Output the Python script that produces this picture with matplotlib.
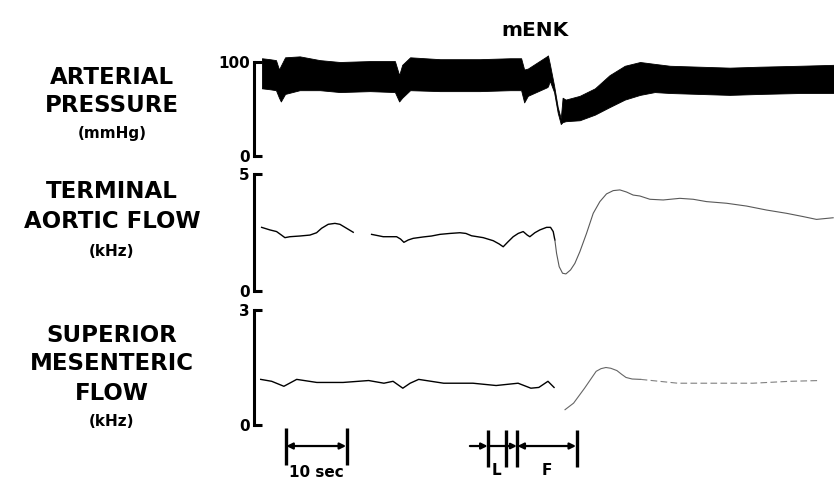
import numpy as np
import matplotlib
matplotlib.use('Agg')
import matplotlib.pyplot as plt

# Time axis in seconds (0 = start of recording)
T_MIN, T_MAX = -1.3, 93.8

# Arterial pressure envelope (systolic / diastolic) [mmHg]
p_time = [0.0, 1.3, 2.3, 2.8, 3.1, 3.8, 6.2, 9.5, 12.8, 17.7, 21.8, 22.5, 23.0, 24.3,
          29.2, 35.7, 40.7, 42.5, 43.0, 43.6, 46.7, 46.9, 47.2, 47.9, 48.5, 49.0, 49.3,
          49.8, 52.1, 54.6, 57.0, 59.5, 62.0, 64.4, 66.9, 71.8, 76.7, 81.6, 88.2, 93.8]
p_sys = [104, 103, 102, 92, 96, 105, 106, 102, 100, 101, 101, 86, 97, 105,
         103, 103, 104, 104, 92, 93, 106, 107, 98, 75, 52, 40, 62,
         60, 64, 72, 86, 96, 100, 98, 96, 95, 94, 95, 96, 97]
p_dia = [72, 71, 70, 62, 58, 66, 70, 70, 68, 69, 68, 58, 62, 70,
         69, 69, 70, 70, 57, 64, 73, 74, 80, 68, 46, 34, 36,
         37, 38, 44, 52, 60, 65, 68, 67, 66, 65, 66, 67, 67]

# Terminal aortic flow [kHz]
ta_time = [-0.05, 1.31, 2.4, 3.2, 3.77, 4.59, 6.23, 7.87, 8.96, 9.78, 10.87, 11.97, 12.79,
           13.88, 14.97, 16.5, 17.98, 19.89, 22.08, 22.73, 23.28, 23.99, 24.8, 26.45, 27.81,
           29.18, 30.82, 32.46, 33.44, 34.37, 36.28, 37.92, 38.9, 39.56, 40.38, 41.2, 42.02,
           42.84, 43.5, 43.93, 44.75, 45.57, 46.67, 47.32, 47.76, 48.03, 48.31, 48.74, 49.29,
           49.84, 50.6, 51.31, 52.13, 53.22, 54.32, 55.41, 56.5, 57.6, 58.69, 59.78, 60.87,
           61.97, 63.61, 65.79, 68.52, 70.71, 72.9, 76.18, 79.46, 82.74, 86.02, 88.74, 90.93,
           93.66]
ta_flow = [2.72, 2.61, 2.54, 2.39, 2.28, 2.32, 2.35, 2.39, 2.49, 2.68, 2.85, 2.89, 2.85,
           2.68, 2.51, np.nan, 2.42, 2.32, 2.32, 2.22, 2.08, 2.18, 2.25, 2.31, 2.35,
           2.42, 2.46, 2.49, 2.46, 2.36, 2.28, 2.15, 2.01, 1.89, 2.11, 2.32, 2.46,
           2.54, 2.39, 2.32, 2.49, 2.61, 2.72, 2.72, 2.54, 2.18, 1.61, 1.04, 0.76,
           0.73, 0.90, 1.18, 1.68, 2.46, 3.32, 3.82, 4.15, 4.29, 4.32, 4.23, 4.10,
           4.06, 3.92, 3.89, 3.96, 3.92, 3.82, 3.75, 3.63, 3.46, 3.32, 3.18, 3.06,
           3.13]

# Superior mesenteric flow [kHz]
sm_time = [-0.2, 1.6, 3.6, 5.7, 9.0, 13.3, 17.5, 20.0, 21.5, 23.1, 24.3, 25.7, 29.8, 34.6,
           38.4, 42.0, 44.1, 45.4, 46.9, 47.9, 48.8, 49.7, 51.1, 52.9, 54.8, 55.6, 56.4,
           57.2, 58.2, 59.0, 59.7, 60.7, 62.1, 68.2, 74.4, 80.5, 86.6, 91.5]
sm_flow = [1.19, 1.14, 1.01, 1.19, 1.11, 1.11, 1.16, 1.09, 1.14, 0.96, 1.09, 1.19, 1.09, 1.09,
           1.03, 1.09, 0.96, 0.98, 1.14, 0.98, np.nan, 0.40, 0.57, 0.96, 1.40, 1.47, 1.50,
           1.48, 1.42, 1.32, 1.24, 1.20, 1.19, 1.09, 1.09, 1.09, 1.14, 1.16]

# Time markers [s]
scale_bar = [3.9, 13.9]
event_start = 34.1
event_marks = [37.0, 40.0, 41.8, 51.6]

DROP_T = 48.03  # after this point the pen traces are faint

plt.rcParams['font.family'] = ['DejaVu Sans']
plt.rcParams['font.weight'] = 'bold'

fig = plt.figure(figsize=(8.34, 4.83), dpi=100)
X0 = 254 / 834
W = 1 - X0


def panel(bottom_px, top_px, ymax):
    ax = fig.add_axes([X0, 1 - bottom_px / 483, W, (bottom_px - top_px) / 483])
    ax.set_xlim(T_MIN, T_MAX)
    ax.set_ylim(0, ymax)
    for s in ['top', 'right', 'bottom']:
        ax.spines[s].set_visible(False)
    ax.spines['left'].set_linewidth(2.2)
    ax.set_xticks([])
    ax.set_yticks([0, ymax])
    ax.set_yticklabels(['0', str(ymax)], fontsize=11, fontweight='bold')
    ax.tick_params(axis='y', direction='in', length=6, width=2.2, pad=3)
    ax.patch.set_alpha(0)
    return ax


ax1 = panel(156, 62, 100)
ax1.fill_between(p_time, p_dia, p_sys, color='black', lw=0.6, clip_on=False)

ax2 = panel(291, 174, 5)
t2 = np.array(ta_time)
f2 = np.array(ta_flow)
ax2.plot(t2[t2 <= DROP_T], f2[t2 <= DROP_T], color='black', lw=1.0)
ax2.plot(t2[t2 >= DROP_T], f2[t2 >= DROP_T], color='0.35', lw=0.8)

ax3 = panel(425, 310, 3)
t3 = np.array(sm_time)
f3 = np.array(sm_flow)
ax3.plot(t3[t3 <= DROP_T], f3[t3 <= DROP_T], color='black', lw=1.0)
mid = (t3 > DROP_T) & (t3 <= 62.1)
ax3.plot(t3[mid], f3[mid], color='0.4', lw=0.8)
ax3.plot(t3[t3 >= 62.1], f3[t3 >= 62.1], color='0.5', lw=0.8, dashes=(6, 3))

# Time markers
axt = fig.add_axes([X0, 0, W, 63 / 483])
axt.set_xlim(T_MIN, T_MAX)
axt.set_ylim(0, 1)
axt.axis('off')
arrow_y = 0.587
bar_lo, bar_hi = 0.29, 0.87
axt.vlines(scale_bar, bar_lo, bar_hi, color='black', lw=2.4)
axt.annotate('', xy=(scale_bar[1] - 0.1, arrow_y), xytext=(scale_bar[0] + 0.1, arrow_y),
             arrowprops=dict(arrowstyle='<|-|>', color='black', lw=1.6,
                             mutation_scale=9, shrinkA=0, shrinkB=0))
axt.text(np.mean(scale_bar), 0.16, '10 sec', ha='center', va='center', fontsize=11,
         fontweight='bold')

axt.vlines(event_marks, bar_lo - 0.03, bar_hi - 0.03, color='black', lw=2.4)
axt.annotate('', xy=(event_marks[0], arrow_y), xytext=(event_start, arrow_y),
             arrowprops=dict(arrowstyle='-|>', color='black', lw=1.6,
                             mutation_scale=9, shrinkA=0, shrinkB=0))
axt.plot([event_marks[0], event_marks[1]], [arrow_y, arrow_y], color='black', lw=1.6)
axt.annotate('', xy=(event_marks[2], arrow_y), xytext=(event_marks[1], arrow_y),
             arrowprops=dict(arrowstyle='-|>', color='black', lw=1.6,
                             mutation_scale=8, shrinkA=0, shrinkB=0))
axt.annotate('', xy=(event_marks[3] - 0.1, arrow_y), xytext=(event_marks[2] + 0.1, arrow_y),
             arrowprops=dict(arrowstyle='<|-|>', color='black', lw=1.6,
                             mutation_scale=9, shrinkA=0, shrinkB=0))
axt.text((event_marks[0] + event_marks[1]) / 2, 0.2, 'L', ha='center', va='center',
         fontsize=11, fontweight='bold')
axt.text((event_marks[2] + event_marks[3]) / 2, 0.2, 'F', ha='center', va='center',
         fontsize=11, fontweight='bold')

# Labels
fig.text(535 / 834, 1 - 30 / 483, 'mENK', ha='center', va='center', fontsize=14.5,
         fontweight='bold')

labels = [('ARTERIAL', 78, 16.5), ('PRESSURE', 105, 16.5), ('(mmHg)', 134, 11),
          ('TERMINAL', 192, 16.5), ('AORTIC FLOW', 222, 16.5), ('(kHz)', 252, 11),
          ('SUPERIOR', 336, 16.5), ('MESENTERIC', 364, 16.5), ('FLOW', 393, 16.5),
          ('(kHz)', 422, 11)]
for txt, ypx, fs in labels:
    fig.text(112 / 834, 1 - ypx / 483, txt, ha='center', va='center', fontsize=fs,
             fontweight='bold')

fig.savefig('out.png', dpi=100)
